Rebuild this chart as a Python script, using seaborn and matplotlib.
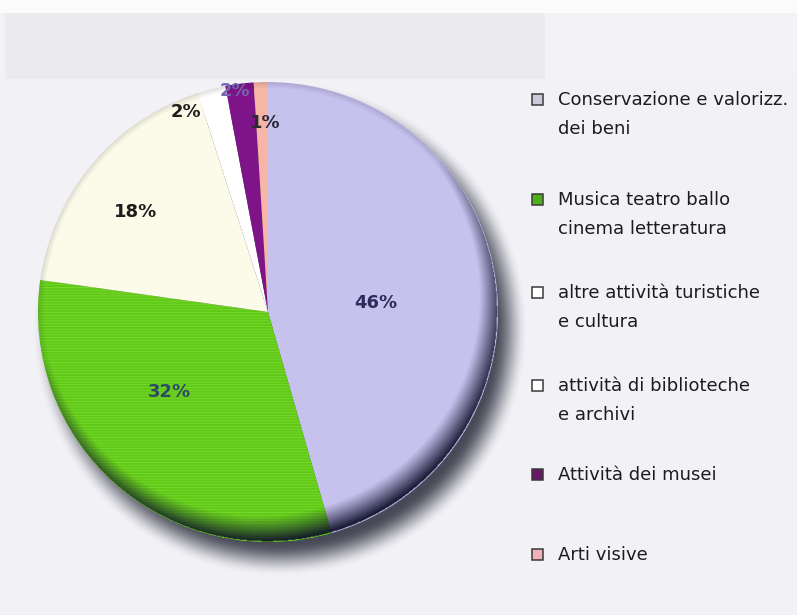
import numpy as np
import matplotlib
matplotlib.use("Agg")
import matplotlib.pyplot as plt
from matplotlib.patches import Rectangle, Circle
import seaborn as sns

# Spending shares by sector (percent)
categories = [
    "Conservazione e valorizz.\ndei beni",
    "Musica teatro ballo\ncinema letteratura",
    "altre attività turistiche\ne cultura",
    "attività di biblioteche\ne archivi",
    "Attività dei musei",
    "Arti visive",
]
shares = [46, 32, 18, 2, 2, 1]
slice_colors = ["#c6c1ed", "#62c816", "#fcfbe9", "#ffffff", "#7e1487", "#f6b5a6"]
legend_colors = ["#cbc7dc", "#4fae1c", "#ffffff", "#ffffff", "#6a1666", "#f2b1b9"]
label_colors = ["#2c2c5a", "#2d4c63", "#1e1e1e", "#1e1e1e", "#7565b0", "#2a2a36"]

sns.set_theme(style="white")
plt.rcParams["font.family"] = ["DejaVu Sans"]
plt.rcParams["hatch.linewidth"] = 0.7

W, H = 797, 615
fig = plt.figure(figsize=(W / 100, H / 100), dpi=100)
fig.patch.set_facecolor("#f2f2f6")

# background bands
bg = fig.add_axes([0, 0, 1, 1])
bg.set_xlim(0, W)
bg.set_ylim(H, 0)
bg.axis("off")
bg.add_patch(Rectangle((0, 0), W, 13, color="#fbfbfb", lw=0))
bg.add_patch(Rectangle((5, 13), 540, 66, color="#ebebed", lw=0))
bg.add_patch(Rectangle((545, 13), W - 545, 66, color="#f3f3f5", lw=0))

# pie axes: centre at (268, 312) px, radius 230 px
cx, cy, R = 268, 312, 230
span = 1.25
ax = fig.add_axes([(cx - R * span) / W, (H - cy - R * span) / H,
                   2 * R * span / W, 2 * R * span / H])
ax.set_xlim(-span, span)
ax.set_ylim(-span, span)
ax.set_aspect("equal")
ax.axis("off")

# soft drop shadow below and to the right
n = 700
g = np.linspace(-span, span, n)
X, Y = np.meshgrid(g, g)
d_sh = np.hypot(X - 0.055, Y + 0.075)
t = np.clip((1.08 - d_sh) / 0.15, 0, 1)
sh_alpha = (t * t * (3 - 2 * t)) * 0.85
shadow = np.zeros((n, n, 4))
shadow[..., :3] = np.array([0.16, 0.17, 0.23])
shadow[..., 3] = sh_alpha
ax.imshow(shadow, extent=[-span, span, -span, span], origin="lower",
          zorder=0, interpolation="bilinear")

wedges, _ = ax.pie(shares, colors=slice_colors, startangle=90,
                   counterclock=False, radius=1.0,
                   wedgeprops=dict(linewidth=0, edgecolor="none"))
for w in wedges:
    w.set_zorder(2)

# striped texture on the green slice
wedges[1].set_hatch("-" * 6)
wedges[1].set_edgecolor("#74d82e")
wedges[1].set_linewidth(0)

# darkened rim toward the lower right, clipped to the disc
rr = np.hypot(X, Y)
direction = np.clip((X * 0.45 - Y * 0.89) / np.maximum(rr, 1e-6) + 0.25, 0, 1.25) / 1.25
rim_width = 0.03 + 0.09 * direction
rim = np.clip(1 - (1.0 - rr) / np.maximum(rim_width, 1e-6), 0, 1)
rim_alpha = (rim ** 1.1) * (0.15 + 0.85 * direction ** 0.7) * (rr <= 1.0)
rim_img = np.zeros((n, n, 4))
rim_img[..., :3] = np.array([0.06, 0.07, 0.17])
rim_img[..., 3] = np.clip(rim_alpha, 0, 0.95)
im = ax.imshow(rim_img, extent=[-span, span, -span, span], origin="lower",
               zorder=3, interpolation="bilinear")
im.set_clip_path(Circle((0, 0), 1.0, transform=ax.transData))

# percentage labels placed along each slice's bisector
label_r = [0.47, 0.55, 0.72, 0.94, 0.97, 0.82]
label_nudge = [-3, -10, 3, 8, 1.5, -1]
for w, val, r, dn, col in zip(wedges, shares, label_r, label_nudge, label_colors):
    mid = np.deg2rad((w.theta1 + w.theta2) / 2 + dn)
    ax.text(r * np.cos(mid), r * np.sin(mid), f"{val}%", ha="center", va="center",
            fontsize=13, fontweight="bold", color=col, zorder=5)

# legend drawn as square swatches with wrapped labels
legend_font = ["DejaVu Sans Condensed", "Liberation Sans Narrow", "DejaVu Sans"]
legend_y = [100, 200, 293, 386, 475, 555]
line_gap = 29
for lab, col, y in zip(categories, legend_colors, legend_y):
    bg.add_patch(Rectangle((532, y - 6), 11, 11, facecolor=col,
                           edgecolor="#3a3a3a", lw=1.1, zorder=4))
    for i, line in enumerate(lab.split("\n")):
        bg.text(558, y + i * line_gap, line, ha="left", va="center",
                fontsize=13, family=legend_font, color="#1c1c1c")

fig.savefig("out.png", dpi=100, facecolor=fig.get_facecolor())
